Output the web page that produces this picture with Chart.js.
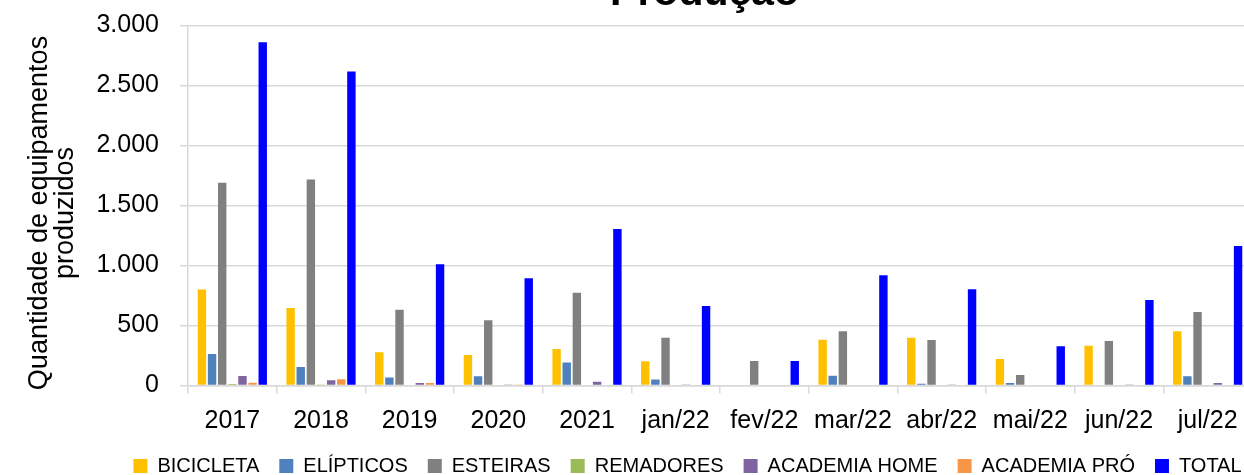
<!DOCTYPE html>
<html><head><meta charset="utf-8">
<script src="https://cdn.jsdelivr.net/npm/chart.js@4.4.1/dist/chart.umd.min.js"></script>
<style>
html,body{margin:0;padding:0;background:#fff;overflow:hidden;width:1244px;height:475px;}
#wrap{position:absolute;left:0;top:-31px;width:1375px;height:517px;}
</style></head><body>
<div id="wrap"><canvas id="c" width="1375" height="517"></canvas></div>
<script>
const categories = ['2017','2018','2019','2020','2021','jan/22','fev/22','mar/22','abr/22','mai/22','jun/22','jul/22'];
const bicicleta    = [800, 645, 278, 254, 305, 203, 0, 382, 398, 220, 332, 452];
const elipticos    = [262, 154, 66, 78, 192, 51, 0, 81, 14, 20, 0, 78];
const esteiras     = [1690, 1717, 632, 543, 773, 398, 205, 452, 379, 87, 371, 612];
const remadores    = [12, 3, 0, 0, 0, 0, 0, 0, 0, 0, 0, 0];
const academiaHome = [79, 43, 20, 8, 32, 8, 0, 0, 8, 0, 8, 21];
const academiaPro  = [23, 52, 20, 4, 0, 0, 0, 0, 0, 0, 0, 0];
const total        = [2860, 2616, 1010, 893, 1304, 662, 205, 918, 802, 327, 712, 1162];
const seriesNames  = ['BICICLETA','ELÍPTICOS','ESTEIRAS','REMADORES','ACADEMIA HOME','ACADEMIA PRÓ','TOTAL'];
const yTicks = {min: 0, max: 3000, step: 500};

const colors = ['#FFC000','#4F81BD','#808080','#9BBB59','#8064A2','#F79646','#0000FF'];
const seriesData = [bicicleta, elipticos, esteiras, remadores, academiaHome, academiaPro, total];
const FONT = "'Liberation Sans', Arial, sans-serif";
const GRID = '#D9D9D9';

function fmt(v){ return String(v).replace(/\B(?=(\d{3})+(?!\d))/g, '.'); }

new Chart(document.getElementById('c'), {
  type: 'bar',
  data: {
    labels: categories,
    datasets: seriesNames.map((n, i) => ({
      label: n, data: seriesData[i], backgroundColor: colors[i], borderWidth: 0,
      barPercentage: 0.83, categoryPercentage: 0.8, yAxisID: 'y'
    }))
  },
  options: {
    responsive: false, animation: false, devicePixelRatio: 1,
    layout: {padding: 0},
    plugins: {
      title: {display: true, text: '   Produção', color: '#000',
        font: {family: FONT, size: 41, weight: 'bold', lineHeight: 1.2},
        padding: {top: 0, bottom: 7.3}},
      legend: {position: 'bottom',
        labels: {boxWidth: 14, boxHeight: 14, padding: 20, color: '#000',
          font: {family: FONT, size: 20}}},
      tooltip: {enabled: false}
    },
    scales: {
      x: {
        grid: {display: true, drawOnChartArea: false, drawTicks: true, tickLength: 8, color: GRID, lineWidth: 1.5, offset: true},
        border: {display: true, color: GRID, width: 1.5},
        ticks: {color: '#000', font: {family: FONT, size: 25, lineHeight: 1.0}, padding: 15, maxRotation: 0, autoSkip: false},
        afterFit: (s) => { s.height = 50.5; }
      },
      y: {
        position: 'left', min: yTicks.min, max: yTicks.max,
        grid: {color: GRID, lineWidth: 1.5, tickLength: 8},
        border: {display: true, color: GRID, width: 1.5},
        ticks: {stepSize: yTicks.step, color: '#000', font: {family: FONT, size: 25}, padding: 21,
          callback: (v) => fmt(v)},
        title: {display: true, text: ['Quantidade de equipamentos  ', 'produzidos  '], color: '#000',
          font: {family: FONT, size: 27, lineHeight: 0.95}, padding: {top: 27, bottom: 0}},
        afterFit: (s) => { s.width = 188; }
      },
      yR: {
        position: 'right', display: true,
        grid: {display: false}, border: {display: false}, ticks: {display: false},
        afterFit: (s) => { s.width = 123; }
      }
    }
  }
});
</script>
</body></html>
